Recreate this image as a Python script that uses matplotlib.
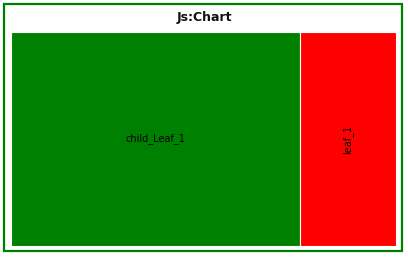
import matplotlib
matplotlib.use("Agg")
import matplotlib.pyplot as plt
from matplotlib.patches import Rectangle

# treemap data
labels = ["child_Leaf_1", "leaf_1"]
values = [3, 1]
colors = ["#008000", "#ff0000"]
title = "Js:Chart"

W, H = 408, 259
fig = plt.figure(figsize=(W / 100, H / 100), dpi=100)
fig.patch.set_facecolor("white")
ax = fig.add_axes([0, 0, 1, 1])
ax.set_xlim(0, W)
ax.set_ylim(H, 0)
ax.axis("off")

# outer frame
ax.add_patch(Rectangle((4, 4), 397.5, 247, facecolor="white", edgecolor="#008000", linewidth=1.6))
ax.text(204, 17, title, ha="center", va="center", fontsize=9, fontweight="bold", color="#111111")

# slice layout of the plot area, horizontally by value
x0, y0, pw, ph = 11, 32, 385, 214
total = sum(values)
x = x0
for lab, v, c in zip(labels, values, colors):
    w = pw * v / total
    ax.add_patch(Rectangle((x, y0), w, ph, facecolor=c, edgecolor="white", linewidth=0.8))
    rot = 90 if w < ph / 2 else 0
    ax.text(x + w / 2, y0 + ph / 2, lab, ha="center", va="center", fontsize=7,
            rotation=rot, color="black")
    x += w

fig.savefig("out.png", dpi=100, facecolor=fig.get_facecolor())
